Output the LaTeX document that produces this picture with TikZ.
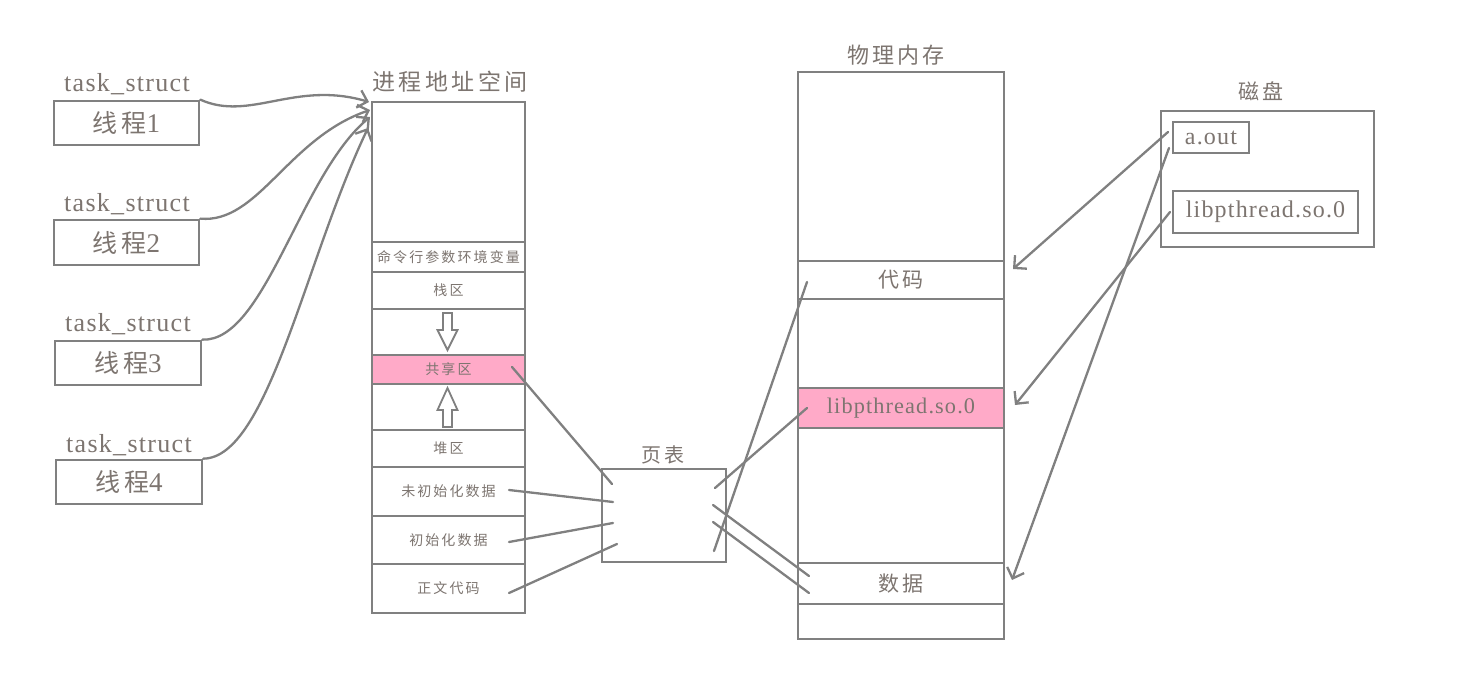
\documentclass[tikz,border=0pt]{standalone}
\usepackage{fontspec}
\setmainfont{Liberation Serif}
\newfontfamily\lat[LetterSpace=5]{Liberation Serif}
\newfontfamily\cjk[LetterSpace=15]{Noto Sans CJK SC}
\usetikzlibrary{arrows.meta}
\definecolor{lc}{HTML}{808080}
\definecolor{tc}{HTML}{7D7570}
\definecolor{pk}{HTML}{FFAAC8}
\tikzset{
  box/.style={draw=lc, line width=2.7pt, inner sep=0pt, text=tc},
  seg/.style={box, minimum width=153pt},
  mem/.style={box, minimum width=206pt},
  pinkbox/.style={fill=pk},
  link/.style={draw=lc, line width=2.3pt, line cap=round},
  arr/.style={link, -{Straight Barb[length=9pt,width=18pt,line width=2.3pt]}},
  hollow/.style={draw=lc, line width=1.8pt, fill=white, line join=miter},
  tslbl/.style={text=tc, inner sep=0pt, anchor=base, font=\lat\fontsize{26}{28}\selectfont},
  thr/.style={font=\lat\fontsize{27}{29}\selectfont},
  title/.style={text=tc, inner sep=0pt, font=\cjk\fontsize{22}{24}\selectfont},
  small/.style={font=\cjk\fontsize{14}{16}\selectfont},
  mid/.style={font=\cjk\fontsize{21}{23}\selectfont},
}
\newcommand{\thrtext}[1]{{\cjk\fontsize{25}{27}\selectfont 线程}#1}
\begin{document}
\begin{tikzpicture}[x=1pt,y=-1pt]
\useasboundingbox (0,0) rectangle (1470,676);
\fill[white] (0,0) rectangle (1470,676);

% ---------- threads ----------
\node[box, thr, minimum width=145pt, minimum height=44pt] (t1) at (126.5,123) {\thrtext{1}};
\node[box, thr, minimum width=145pt, minimum height=45pt] (t2) at (126.5,242.5) {\thrtext{2}};
\node[box, thr, minimum width=146pt, minimum height=44pt] (t3) at (128,363) {\thrtext{3}};
\node[box, thr, minimum width=146pt, minimum height=44pt] (t4) at (129,482) {\thrtext{4}};
\node[tslbl] (ts1) at (127,92) {task\_struct};
\node[tslbl] (ts2) at (127,212) {task\_struct};
\node[tslbl] (ts3) at (128,332) {task\_struct};
\node[tslbl] (ts4) at (129,452) {task\_struct};

% ---------- process address space ----------
\node[title, font=\cjk\fontsize{23}{25}\selectfont] (astitle) at (450,82) {进程地址空间};
\node[seg, minimum height=140pt] (s0) at (448.5,172) {};
\node[seg, small, minimum height=30pt] (s1) at (448.5,257) {命令行参数环境变量};
\node[seg, small, minimum height=37pt] (s2) at (448.5,290.5) {栈区};
\node[seg, minimum height=46pt] (s3) at (448.5,332) {};
\node[seg, minimum height=46pt] (s5) at (448.5,407) {};
\node[seg, small, pinkbox, minimum height=29pt] (s4) at (448.5,369.5) {共享区};
\node[seg, small, minimum height=37pt] (s6) at (448.5,448.5) {堆区};
\node[seg, small, minimum height=49pt] (s7) at (448.5,491.5) {未初始化数据};
\node[seg, small, minimum height=48pt] (s8) at (448.5,540) {初始化数据};
\node[seg, small, minimum height=49pt] (s9) at (448.5,588.5) {正文代码};

% hollow arrows
\draw[hollow] (443,313) -- (452,313) -- (452,330) -- (457.5,330) -- (447.5,350) -- (437.5,330) -- (443,330) -- cycle;
\draw[hollow] (447.5,388) -- (457.5,410) -- (452,410) -- (452,427) -- (443,427) -- (443,410) -- (437.5,410) -- cycle;

% ---------- page table ----------
\node[title, font=\cjk\fontsize{20}{22}\selectfont] (pttitle) at (663,455) {页表};
\node[box, minimum width=124pt, minimum height=93pt] (pt) at (664,515.5) {};

% ---------- physical memory ----------
\node[title] (pmtitle) at (896,55) {物理内存};
\node[mem, minimum height=189pt] (m0) at (901,166.5) {};
\node[mem, mid, minimum height=38pt] (m1) at (901,280) {代码};
\node[mem, minimum height=89pt] (m2) at (901,343.5) {};
\node[mem, minimum height=135pt] (m4) at (901,495.5) {};
\node[mem, pinkbox, font=\lat\fontsize{22.3}{24}\selectfont, minimum height=40pt] (m3) at (901,408) {libpthread.so.0};
\node[mem, mid, minimum height=41pt] (m5) at (901,583.5) {数据};
\node[mem, minimum height=35pt] (m6) at (901,621.5) {};

% ---------- disk ----------
\node[title, font=\cjk\fontsize{21}{23}\selectfont] (dtitle) at (1261,91) {磁盘};
\node[box, minimum width=213pt, minimum height=136pt] (disk) at (1267.5,179) {};
\node[box, font=\lat\fontsize{24}{26}\selectfont, minimum width=76pt, minimum height=31pt] (aout) at (1211,137.5) {a.out};
\node[box, font=\lat\fontsize{24}{26}\selectfont, minimum width=185pt, minimum height=42pt] (lib) at (1265.5,212) {libpthread.so.0};

% ---------- thread -> address space ----------
\coordinate (a1) at (369,102);
\coordinate (a2) at (370,110);
\coordinate (a3) at (370,117);
\coordinate (a4) at (368,128);
\draw[arr] (t1.north east) .. controls (250,122) and (295,80) .. (a1);
\draw[arr] (t2.north east) .. controls (258,224) and (288,138) .. (a2);
\draw[arr] (t3.north east) .. controls (265,342) and (300,175) .. (a3);
\draw[arr] (t4.north east) .. controls (268,458) and (305,260) .. (a4);

% ---------- address space -> page table ----------
\coordinate (x4) at (512,367);   \coordinate (p4) at (612,484);
\coordinate (x7) at (509,490);   \coordinate (p7) at (613,502);
\coordinate (x8) at (509,542);   \coordinate (p8) at (613,523);
\coordinate (x9) at (509,593);   \coordinate (p9) at (617,544);
\draw[link] (x4) -- (p4);
\draw[link] (x7) -- (p7);
\draw[link] (x8) -- (p8);
\draw[link] (x9) -- (p9);

% ---------- page table -> physical memory ----------
\coordinate (q1) at (715,488);   \coordinate (r1) at (807,408);
\coordinate (q2) at (714,551);   \coordinate (r2) at (807,282);
\coordinate (q3) at (713,505);   \coordinate (r3) at (809,576);
\coordinate (q4) at (713,522);   \coordinate (r4) at (809,593);
\draw[link] (q1) -- (r1);
\draw[link] (q2) -- (r2);
\draw[link] (q3) -- (r3);
\draw[link] (q4) -- (r4);

% ---------- disk -> physical memory ----------
\coordinate (d1) at (1168,132);  \coordinate (e1) at (1013,269);
\coordinate (d2) at (1169,148);  \coordinate (e2) at (1012,580);
\coordinate (d3) at (1170,212);  \coordinate (e3) at (1015,405);
\draw[arr] (d1) -- (e1);
\draw[arr] (d2) -- (e2);
\draw[arr] (d3) -- (e3);
\end{tikzpicture}
\end{document}
